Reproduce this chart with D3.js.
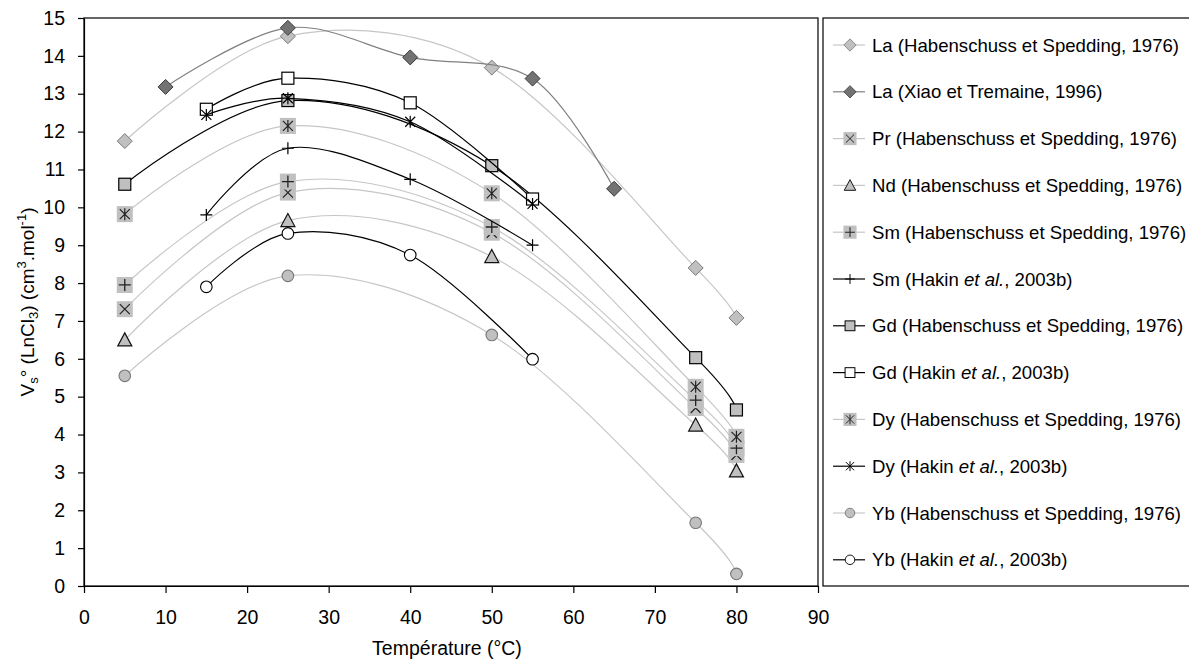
<!DOCTYPE html>
<html>
<head>
<meta charset="utf-8">
<script src="https://cdn.jsdelivr.net/npm/d3@7"></script>
<style>
  body { margin: 0; background: #fff; }
  svg text { font-family: "Liberation Sans", Arial, sans-serif; fill: #000; }
</style>
</head>
<body>
<div id="chart"></div>
<script>
// temperatures (°C)
var tHab = [5, 25, 50, 75, 80];
var tXiao = [10, 25, 40, 55, 65];
var tHakin = [15, 25, 40, 55];

// V°s values
var laHab = [11.75, 14.52, 13.69, 8.40, 7.08];
var laXiao = [13.18, 14.74, 13.96, 13.40, 10.49];
var prHab = [7.31, 10.39, 9.33, 4.70, 3.46];
var ndHab = [6.50, 9.65, 8.70, 4.25, 3.04];
var smHab = [7.95, 10.68, 9.48, 4.91, 3.64];
var smHakin = [9.80, 11.56, 10.74, 9.00];
var gdHab = [10.61, 12.82, 11.10, 6.03, 4.65];
var gdHakin = [12.59, 13.41, 12.76, 10.22];
var dyHab = [9.82, 12.15, 10.37, 5.26, 3.94];
var dyHakin = [12.44, 12.88, 12.26, 10.09];
var ybHab = [5.55, 8.19, 6.63, 1.67, 0.32];
var ybHakin = [7.90, 9.31, 8.74, 5.99];

var xTicks = [0, 10, 20, 30, 40, 50, 60, 70, 80, 90];
var yTicks = [0, 1, 2, 3, 4, 5, 6, 7, 8, 9, 10, 11, 12, 13, 14, 15];

// series list: [element, reference, italic part, rest, temps, values, marker, line colour]
var series = [
  ["La", "(Habenschuss et Spedding, 1976)", null, null, tHab, laHab, "diamondLight", "#c6c6c6"],
  ["La", "(Xiao et Tremaine, 1996)", null, null, tXiao, laXiao, "diamondDark", "#808080"],
  ["Pr", "(Habenschuss et Spedding, 1976)", null, null, tHab, prHab, "boxX", "#c6c6c6"],
  ["Nd", "(Habenschuss et Spedding, 1976)", null, null, tHab, ndHab, "triangle", "#c6c6c6"],
  ["Sm", "(Habenschuss et Spedding, 1976)", null, null, tHab, smHab, "boxPlus", "#c6c6c6"],
  ["Sm", "(Hakin ", "et al.", ", 2003b)", tHakin, smHakin, "plus", "#000"],
  ["Gd", "(Habenschuss et Spedding, 1976)", null, null, tHab, gdHab, "squareGray", "#000"],
  ["Gd", "(Hakin ", "et al.", ", 2003b)", tHakin, gdHakin, "squareWhite", "#000"],
  ["Dy", "(Habenschuss et Spedding, 1976)", null, null, tHab, dyHab, "boxStar", "#c6c6c6"],
  ["Dy", "(Hakin ", "et al.", ", 2003b)", tHakin, dyHakin, "star", "#000"],
  ["Yb", "(Habenschuss et Spedding, 1976)", null, null, tHab, ybHab, "circleGray", "#c6c6c6"],
  ["Yb", "(Hakin ", "et al.", ", 2003b)", tHakin, ybHakin, "circleWhite", "#000"]
];

var W = 1189, H = 663;
var svg = d3.select("#chart").append("svg").attr("width", W).attr("height", H);

var x = d3.scaleLinear().domain([0, 90]).range([84, 818]);
var y = d3.scaleLinear().domain([0, 15]).range([586, 18]);

// frame of plot area
svg.append("rect")
  .attr("x", x(0)).attr("y", y(15))
  .attr("width", x(90) - x(0)).attr("height", y(0) - y(15))
  .attr("fill", "none").attr("stroke", "#000").attr("stroke-width", 1.2);

var gx = svg.append("g")
  .attr("transform", "translate(0," + y(0) + ")")
  .call(d3.axisBottom(x).tickValues(xTicks).tickSize(7).tickSizeOuter(0).tickPadding(17));
var gy = svg.append("g")
  .attr("transform", "translate(" + x(0) + ",0)")
  .call(d3.axisLeft(y).tickValues(yTicks).tickSize(6).tickSizeOuter(0).tickPadding(13));
[gx, gy].forEach(function(g) {
  g.selectAll("text").attr("font-size", 19.5).attr("font-family", "Liberation Sans, Arial, sans-serif");
  g.selectAll("line, path").attr("stroke", "#000").attr("stroke-width", 1.2);
});

// axis titles
svg.append("text")
  .attr("x", x(45) - 4).attr("y", 655)
  .attr("text-anchor", "middle").attr("font-size", 19.5)
  .text("Température (°C)");

var yt = svg.append("text")
  .attr("transform", "translate(34," + y(7.5) + ") rotate(-90)")
  .attr("text-anchor", "middle").attr("font-size", 19);
yt.append("tspan").text("V");
yt.append("tspan").attr("font-size", 13).attr("dy", 4).text("s");
yt.append("tspan").attr("dy", -4).text("° (LnCl");
yt.append("tspan").attr("font-size", 13).attr("dy", 4).text("3");
yt.append("tspan").attr("dy", -4).text(") (cm");
yt.append("tspan").attr("font-size", 13).attr("dy", -8).text("3");
yt.append("tspan").attr("dy", 8).text(".mol");
yt.append("tspan").attr("font-size", 13).attr("dy", -8).text("-1");
yt.append("tspan").attr("dy", 8).text(")");

// marker drawing
function drawMarker(g, type) {
  var box = function() {
    g.append("rect").attr("x", -8).attr("y", -8).attr("width", 16).attr("height", 16).attr("fill", "#c0c0c0");
  };
  var ink = "#222";
  if (type === "diamondLight" || type === "diamondDark") {
    g.append("path").attr("d", "M0,-7.5L7.5,0L0,7.5L-7.5,0Z")
      .attr("fill", type === "diamondLight" ? "#c0c0c0" : "#737373")
      .attr("stroke", type === "diamondLight" ? "#7a7a7a" : "#3a3a3a").attr("stroke-width", 1);
  } else if (type === "boxX") {
    box();
    g.append("path").attr("d", "M-5,-5L5,5M-5,5L5,-5").attr("stroke", ink).attr("stroke-width", 1.2);
  } else if (type === "triangle") {
    g.append("path").attr("d", "M0,-7L7,6L-7,6Z").attr("fill", "#c0c0c0").attr("stroke", "#111").attr("stroke-width", 1.2);
  } else if (type === "boxPlus") {
    box();
    g.append("path").attr("d", "M-6,0L6,0M0,-6L0,6").attr("stroke", ink).attr("stroke-width", 1.3);
  } else if (type === "plus") {
    g.append("path").attr("d", "M-6,0L6,0M0,-6L0,6").attr("stroke", "#000").attr("stroke-width", 1.2);
  } else if (type === "squareGray" || type === "squareWhite") {
    g.append("rect").attr("x", -6).attr("y", -6).attr("width", 12).attr("height", 12)
      .attr("fill", type === "squareGray" ? "#c0c0c0" : "#fff").attr("stroke", "#000").attr("stroke-width", 1.2);
  } else if (type === "boxStar") {
    box();
    g.append("path").attr("d", "M-5,-5L5,5M-5,5L5,-5M0,-6L0,6").attr("stroke", ink).attr("stroke-width", 1.2);
  } else if (type === "star") {
    g.append("path").attr("d", "M-5,-5L5,5M-5,5L5,-5M0,-6L0,6").attr("stroke", "#000").attr("stroke-width", 1.2);
  } else if (type === "circleGray" || type === "circleWhite") {
    g.append("circle").attr("r", 5.8)
      .attr("fill", type === "circleGray" ? "#c0c0c0" : "#fff")
      .attr("stroke", type === "circleGray" ? "#777" : "#000").attr("stroke-width", 1.1);
  }
}

var line = d3.line()
  .x(function(d) { return x(d[0]); })
  .y(function(d) { return y(d[1]); })
  .curve(d3.curveCardinal.tension(0));

var plot = svg.append("g");
series.forEach(function(s) {
  var pts = s[4].map(function(t, i) { return [t, s[5][i]]; });
  var g = plot.append("g");
  g.append("path").datum(pts).attr("d", line)
    .attr("fill", "none").attr("stroke", s[7]).attr("stroke-width", 1.2);
  pts.forEach(function(p) {
    drawMarker(g.append("g").attr("transform", "translate(" + x(p[0]) + "," + y(p[1]) + ")"), s[6]);
  });
});

// legend
var lg = svg.append("g");
lg.append("rect").attr("x", 823).attr("y", 18).attr("width", 380).attr("height", 568)
  .attr("fill", "#fff").attr("stroke", "#000").attr("stroke-width", 1.2);
series.forEach(function(s, i) {
  var cy = 45 + i * 46.8;
  var row = lg.append("g").attr("transform", "translate(0," + cy + ")");
  row.append("line").attr("x1", 833).attr("x2", 865).attr("y1", 0).attr("y2", 0)
    .attr("stroke", s[7]).attr("stroke-width", 1.2);
  drawMarker(row.append("g").attr("transform", "translate(850,0) scale(0.82)"), s[6]);
  var t = row.append("text").attr("x", 872).attr("y", 0).attr("dy", "0.35em").attr("font-size", 18.6);
  t.append("tspan").text(s[0] + " " + s[1]);
  if (s[2]) {
    t.append("tspan").attr("font-style", "italic").text(s[2]);
    t.append("tspan").text(s[3]);
  }
});
</script>
</body>
</html>
